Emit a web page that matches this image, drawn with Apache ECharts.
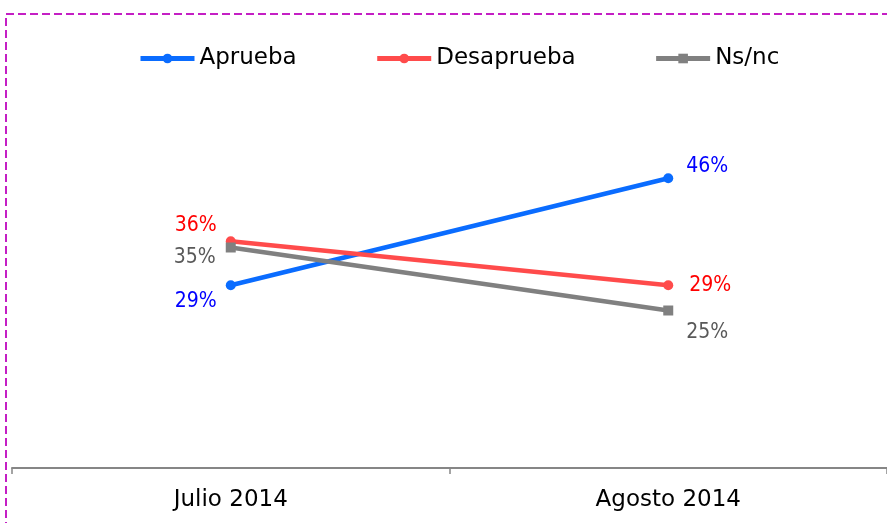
<!DOCTYPE html>
<html><head><meta charset="utf-8">
<script src="https://cdn.jsdelivr.net/npm/echarts@6/dist/echarts.min.js"></script>
<style>html,body{margin:0;padding:0;background:#fff}#c{width:887px;height:523px}</style>
</head><body><div id="c"></div>
<script>
const categories = ['Julio 2014', 'Agosto 2014'];
const aprueba = [29, 46];
const desaprueba = [36, 29];
const nsnc = [35, 25];
const seriesNames = ['Aprueba', 'Desaprueba', 'Ns/nc'];

const FONT = 'DejaVu Sans';
const LFONT = 'DejaVu Sans Condensed';
const chart = echarts.init(document.getElementById('c'));
function mkSeries(name, data, lineColor, labelColor, symbol, pos) {
  return {
    name, type: 'line', data: data.map((v, i) => ({
      value: v,
      label: { position: pos[i][0], offset: pos[i][1] }
    })),
    symbol, symbolSize: 10,
    lineStyle: { color: lineColor, width: 4.5 },
    itemStyle: { color: lineColor },
    label: { show: true, fontFamily: LFONT, fontSize: 21, color: labelColor, formatter: '{c}%' },
    emphasis: { disabled: true }, animation: false
  };
}
chart.setOption({
  animation: false,
  legend: {
    top: 47, left: 138, padding: 0, itemWidth: 54, itemHeight: 12, itemGap: 78,
    lineStyle: { width: 5 },
    textStyle: { fontFamily: FONT, fontSize: 23, color: '#000' },
    data: seriesNames
  },
  grid: { left: 12, right: -3, top: 90, bottom: 55, containLabel: false },
  xAxis: {
    type: 'category', data: categories, boundaryGap: true,
    axisLine: { lineStyle: { color: '#868686', width: 2 } },
    axisTick: { show: true, length: 6, lineStyle: { color: '#868686', width: 1.5 } },
    axisLabel: { fontFamily: FONT, fontSize: 23, color: '#000', margin: 21 }
  },
  yAxis: { type: 'value', min: 0, max: 60, show: false, splitLine: { show: false } },
  graphic: [{
    type: 'rect', shape: { x: 6, y: 14, width: 900, height: 600 },
    style: { fill: 'none', stroke: '#c41fc4', lineWidth: 2, lineDash: [8, 4] }, silent: true, z: 100
  }],
  series: [
    mkSeries('Aprueba', aprueba, '#0a6cff', '#0000ff', 'circle', [['left', [-4, 16]], ['right', [8, -12]]]),
    mkSeries('Desaprueba', desaprueba, '#ff4b4b', '#ff0000', 'circle', [['left', [-4, -16]], ['right', [11, 0]]]),
    mkSeries('Ns/nc', nsnc, '#808080', '#595959', 'rect', [['left', [-5, 10]], ['right', [8, 22]]])
  ]
});
</script></body></html>
